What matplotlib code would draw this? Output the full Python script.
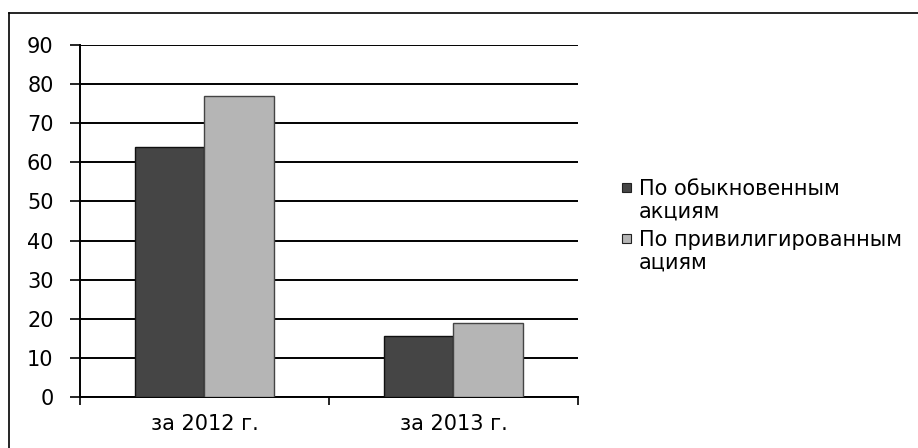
import numpy as np
import matplotlib.pyplot as plt
from matplotlib.lines import Line2D
from matplotlib.patches import Rectangle

categories = ['за 2012 г.', 'за 2013 г.']
ordinary = [64, 15.5]      # По обыкновенным акциям
preferred = [77, 19]       # По привилигированным ациям
series_names = ['По обыкновенным\nакциям', 'По привилигированным\nациям']
yticks = [0, 10, 20, 30, 40, 50, 60, 70, 80, 90]
colors = ['#454545', '#b5b5b5']

plt.rcParams['font.family'] = ['DejaVu Sans']

fig = plt.figure(figsize=(9.18, 4.48), dpi=100)
ax = fig.add_axes([80/918, 1-397/448, 498/918, 352/448])

x = np.arange(len(categories))
w = 0.28
ax.bar(x - w/2, ordinary, w, color=colors[0], edgecolor='#111111', linewidth=1, zorder=3)
ax.bar(x + w/2, preferred, w, color=colors[1], edgecolor='#444444', linewidth=1, zorder=3)

ax.set_xlim(-0.5, 1.5)
ax.set_ylim(0, 90)
ax.set_yticks(yticks)
ax.set_xticks(x)
ax.set_xticklabels(categories, fontsize=15)
ax.tick_params(axis='y', labelsize=15, length=7, width=1.2, pad=12, color='black')
ax.tick_params(axis='x', length=0, pad=12)
# category boundary tick marks
ax.set_xticks([-0.5, 0.5, 1.5], minor=True)
ax.tick_params(axis='x', which='minor', length=6, width=1.2)

ax.grid(axis='y', color='black', linewidth=1.4, zorder=0)
for s in ['top', 'right']:
    ax.spines[s].set_visible(False)
ax.spines['left'].set_linewidth(1.4)
ax.spines['bottom'].set_linewidth(1.4)

# legend drawn by hand so the marker sits on the first text line
leg_y = [1-182/448, 1-233/448]
for c, name, yy in zip(colors, series_names, leg_y):
    fig.add_artist(Rectangle((622/918, yy-10/448), 9/918, 9/448, facecolor=c,
                             edgecolor='#222222', linewidth=0.8, transform=fig.transFigure))
    fig.text(639/918, yy+3/448, name, fontsize=15, va='top', ha='left', linespacing=1.15)

# outer chart frame (top and left edges visible)
fig.add_artist(Line2D([9/918, 9/918], [0, 1-13/448], color='black', linewidth=1.2,
                      transform=fig.transFigure))
fig.add_artist(Line2D([9/918, 1], [1-13/448, 1-13/448], color='black', linewidth=1.2,
                      transform=fig.transFigure))

fig.savefig('out.png', dpi=100)
